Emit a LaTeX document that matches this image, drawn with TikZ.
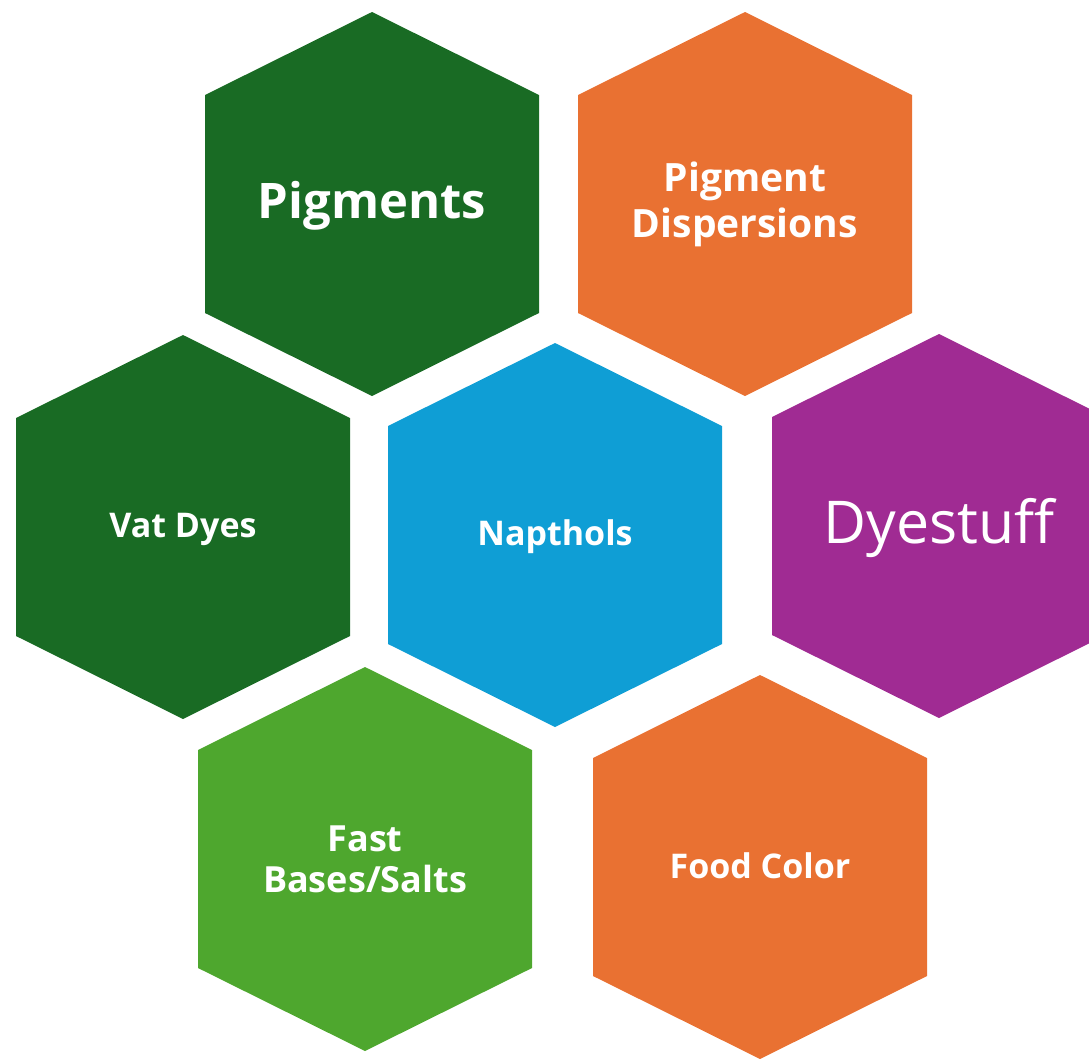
\documentclass[tikz,border=0pt]{standalone}
\usepackage{fontspec}
\setmainfont{Open Sans}
\definecolor{dgreen}{HTML}{196B24}
\definecolor{orng}{HTML}{E97132}
\definecolor{blu}{HTML}{0F9ED5}
\definecolor{purp}{HTML}{A02B93}
\definecolor{lgreen}{HTML}{4EA72E}
\begin{document}
\begin{tikzpicture}[x=1pt,y=-1pt,
  lbl/.style={text=white, align=center, inner sep=0pt},
  hexfill/.style={fill=#1}]
\useasboundingbox (0,0) rectangle (1089,1058);
\def\hexat#1#2#3{\fill[hexfill=#3, shift={(#1,#2)}] (-167,-109) -- (0,-192) -- (167,-109) -- (167,109) -- (0,192) -- (-167,109) -- cycle;}
\hexat{372}{204}{dgreen}
\hexat{745}{204}{orng}
\hexat{183}{527}{dgreen}
\hexat{555}{535}{blu}
\hexat{939}{526}{purp}
\hexat{365}{859}{lgreen}
\hexat{760}{867}{orng}
\node[lbl, anchor=base, font=\bfseries\fontsize{49}{56}\selectfont] (pig) at (372,218) {Pigments};
\node[lbl, font=\bfseries\fontsize{39}{46}\selectfont] (disp) at (745,204) {Pigment\\Dispersions};
\node[lbl, anchor=base, font=\bfseries\fontsize{34}{40}\selectfont] (vat) at (183,537) {Vat Dyes};
\node[lbl, anchor=base, font=\bfseries\fontsize{34}{40}\selectfont] (nap) at (555,545) {Napthols};
\node[lbl, anchor=base, font=\fontsize{59}{66}\selectfont] (dye) at (939,543) {Dyestuff};
\node[lbl, font=\bfseries\fontsize{36}{41}\selectfont] (fast) at (365,859) {Fast\\Bases/Salts};
\node[lbl, anchor=base, font=\bfseries\fontsize{34}{40}\selectfont] (food) at (760,878) {Food Color};
\end{tikzpicture}
\end{document}
